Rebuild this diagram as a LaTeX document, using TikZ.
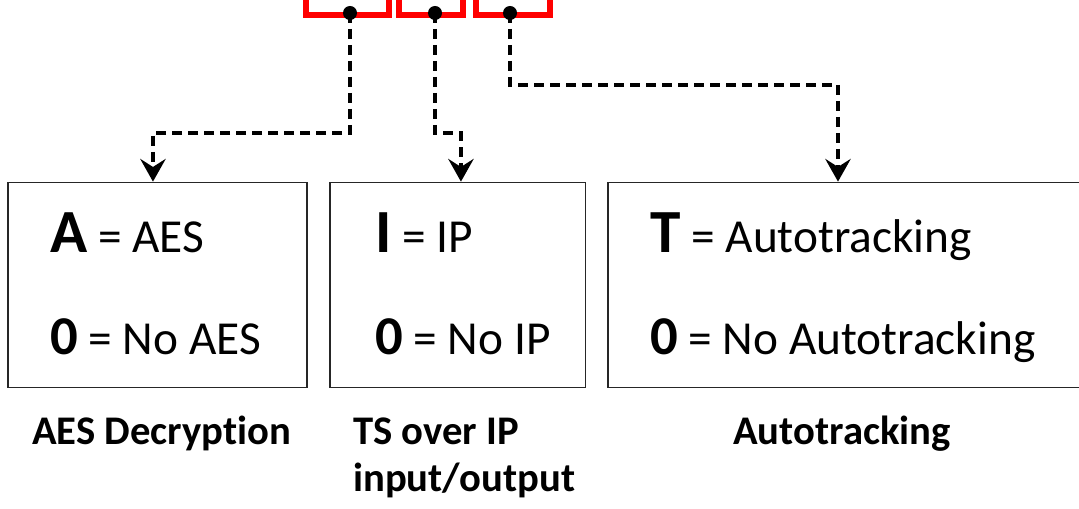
\documentclass[tikz,border=0pt]{standalone}
\usepackage{fontspec}
\setmainfont{Carlito}[Ligatures=NoCommon]
\usetikzlibrary{arrows.meta, positioning}

\newcommand{\bigkey}[1]{{\fontsize{46}{50}\selectfont\bfseries #1}}
\newcommand{\zerokey}{{\fontsize{41}{46}\selectfont\bfseries 0}}

\begin{document}
\begin{tikzpicture}[
    x=0.75pt, y=-0.75pt,
    % Define simple, standard styles
    codebox/.style={rectangle, draw=red, line width=4.5pt, fill=white, minimum height=41.25pt},
    optbox/.style={rectangle, draw=black!85, line width=1.3pt, minimum height=153.75pt},
    link/.style={line width=3pt, dash pattern=on 7.5pt off 4.5pt, -{Stealth[length=17pt, width=19pt, inset=6pt]}},
    dot/.style={circle, fill=black, inner sep=0pt, minimum size=10.5pt},
    key/.style={anchor=base west, inner sep=0pt, font=\fontsize{35.5}{42}\selectfont},
    caption/.style={anchor=base west, inner sep=0pt, align=left, font=\fontsize{30.5}{35.25}\selectfont\bfseries}
]
\clip (0,0) rectangle (1079,509);

% 1. Top: the code characters (cut off at the top)
\node[codebox, minimum width=62.25pt] (aes) at (347.5,-12.5) {};
\node[codebox, minimum width=48pt] (ip) at (431,-12.5) {};
\node[codebox, minimum width=55.5pt] (track) at (513,-12.5) {};

\node[dot] (d1) at (350,13) {};
\node[dot] (d2) at (435,13) {};
\node[dot] (d3) at (510,13) {};

% 2. Option boxes
\node[optbox, minimum width=224.25pt] (box1) at (157.5,285) {};
\node[optbox, minimum width=191.6pt] (box2) at (457.75,285) {};
\node[optbox, minimum width=369pt] (box3) at (854,285) {};

% 3. Box contents
\node[key] (a1) at (50,253) {\bigkey{A} = AES};
\node[key] (a0) at (50,355) {\zerokey{} = No AES};
\node[key] (i1) at (375,253) {\bigkey{I} = IP};
\node[key] (i0) at (375,355) {\zerokey{} = No IP};
\node[key] (t1) at (650,253) {\bigkey{T} = Autotracking};
\node[key] (t0) at (650,355) {\zerokey{} = No Autotracking};

% 4. Captions under the boxes
\node[caption] (cap1) at (32,445) {AES Decryption};
\node[caption] (cap2) at (353,492) {TS over IP\\input/output};
\node[caption] (cap3) at (733,445) {Autotracking};

% Draw the connecting arrows
\draw[link] (d1.center) -- ++(0,120) -| ([xshift=-3.4pt]box1.north);
\draw[link] (d2.center) -- ++(0,120) -| ([xshift=2.4pt]box2.north);
\draw[link] (d3.center) -- ++(0,72) -| ([xshift=-12pt]box3.north);

\end{tikzpicture}
\end{document}
